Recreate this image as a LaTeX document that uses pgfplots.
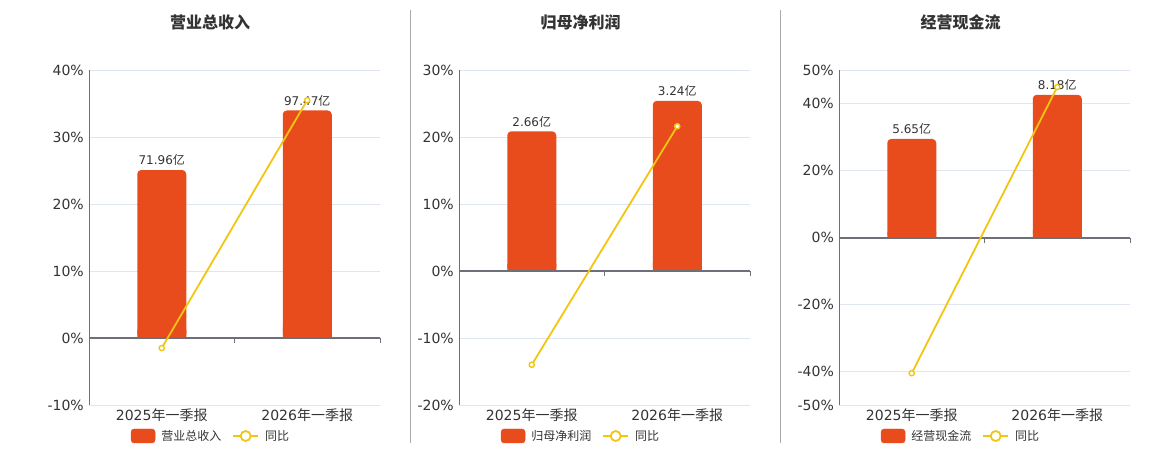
\documentclass[border=0pt]{standalone}
\usepackage{fontspec}
\setmainfont{DejaVu Sans}
\newfontfamily\cjk{Noto Sans CJK SC}
\usepackage{pgfplots}
\pgfplotsset{compat=1.18}
\definecolor{barc}{HTML}{E84C1D}
\definecolor{linec}{HTML}{F2C511}
\definecolor{textc}{HTML}{333333}
\definecolor{axisc}{HTML}{6E7079}
\definecolor{gridc}{HTML}{E0E6F1}
\definecolor{sepc}{HTML}{AAAAAA}
\pgfplotsset{
  base/.style={scale only axis, width=291pt, height=335pt, xmin=-0.5, xmax=1.5, anchor=south west},
  bg/.style={base,
    axis lines=left, axis line style={-, draw=axisc, line width=0.8pt},
    x axis line style={draw=none},
    xtick={0,1}, xticklabels={{2025{\cjk 年一季报}},{2026{\cjk 年一季报}}},
    xtick style={draw=none}, ytick style={draw=none}, major tick length=0pt,
    ymajorgrids, grid style={gridc, line width=0.8pt},
    tick label style={font=\fontsize{14}{16}\selectfont, text=textc},
    yticklabel style={inner xsep=5pt},
    yticklabel={\pgfmathprintnumber{\tick}\%},
    /pgf/number format/assume math mode=true},
  bars/.style={base, hide axis, ybar, bar width=49pt, clip=false,
    point meta=explicit symbolic,
    nodes near coords={\pgfplotspointmeta{\cjk 亿}},
    every node near coord/.append style={font=\fontsize{12}{14}\selectfont, text=textc, inner sep=1pt, yshift=3pt}},
  barsflat/.style={base, hide axis, ybar, bar width=49pt, clip=false},
  fg/.style={base, axis x line=middle, axis y line=none, clip=false,
    axis line style={-},
    every inner x axis line/.append style={-, draw=axisc, line width=2pt},
    x axis line style={-, draw=axisc, line width=2pt},
    xtick={0.5,1.5}, xticklabels={}, ytick=\empty,
    xtick style={draw=axisc, line width=0.8pt}, tick align=outside, major tick length=5pt,
    legend columns=2,
    legend style={at={(0.4158,-0.0925)}, anchor=center, draw=none, fill=none,
      font=\fontsize{12}{14}\selectfont, text=textc,
      nodes={inner sep=0pt},
      /tikz/every odd column/.append style={column sep=6pt},
      /tikz/every even column/.append style={column sep=11pt}}},
  barlegend/.style={legend image code/.code={\fill[barc, rounded corners=3pt] (0pt,-7pt) rectangle (24pt,7pt);}},
  linelegend/.style={legend image code/.code={\draw[linec, line width=1.8pt] (0pt,0pt) -- (25pt,0pt);
      \draw[linec, line width=1.8pt, fill=white] (12.5pt,0pt) circle (5pt);}},
  yoy/.style={linec, line width=1.8pt, mark=*, mark size=2.6pt, mark options={fill=white, draw=linec, line width=1.4pt}}
}
\begin{document}
\begin{tikzpicture}
\path (0pt,0pt) rectangle (1160pt,450pt);
% separators
\draw[sepc, line width=0.8pt] (410.5pt,440pt) -- (410.5pt,7pt);
\draw[sepc, line width=0.8pt] (780.5pt,440pt) -- (780.5pt,7pt);
% titles
\node[font=\fontsize{16}{18}\selectfont\cjk\bfseries, text=textc] at (210pt,428pt) {营业总收入};
\node[font=\fontsize{16}{18}\selectfont\cjk\bfseries, text=textc] at (580.5pt,428pt) {归母净利润};
\node[font=\fontsize{16}{18}\selectfont\cjk\bfseries, text=textc] at (960.5pt,428pt) {经营现金流};

% ---------- Panel 1 ----------
\pgfplotstableread{
x v p
0 71.96 -1.5
1 97.47 35.5
}\tA
\begin{axis}[bg, at={(89pt,45pt)}, ymin=-10, ymax=40, ytick={-10,0,10,20,30,40}]
\end{axis}
\begin{axis}[bars, at={(89pt,45pt)}, ymin=-28.7, ymax=114.8]
\addplot[fill=barc, draw=none, rounded corners=4pt] table[x=x, y=v, meta=v] {\tA};
\end{axis}
\begin{axis}[barsflat, at={(89pt,45pt)}, ymin=-574, ymax=2296]
\addplot[fill=barc, draw=none] table[x=x, y=v] {\tA};
\end{axis}
\begin{axis}[fg, at={(89pt,45pt)}, ymin=-10, ymax=40]
\addlegendimage{barlegend}
\addlegendentry{\cjk 营业总收入}
\addplot[yoy, linelegend] table[x=x, y=p] {\tA};
\addlegendentry{\cjk 同比}
\end{axis}

% ---------- Panel 2 ----------
\pgfplotstableread{
x v p
0 2.66 -14.0
1 3.24 21.6
}\tB
\begin{axis}[bg, at={(459pt,45pt)}, ymin=-20, ymax=30, ytick={-20,-10,0,10,20,30}]
\end{axis}
\begin{axis}[bars, at={(459pt,45pt)}, ymin=-2.552, ymax=3.828]
\addplot[fill=barc, draw=none, rounded corners=4pt] table[x=x, y=v, meta=v] {\tB};
\end{axis}
\begin{axis}[barsflat, at={(459pt,45pt)}, ymin=-51.04, ymax=76.56]
\addplot[fill=barc, draw=none] table[x=x, y=v] {\tB};
\end{axis}
\begin{axis}[fg, at={(459pt,45pt)}, ymin=-20, ymax=30]
\addlegendimage{barlegend}
\addlegendentry{\cjk 归母净利润}
\addplot[yoy, linelegend] table[x=x, y=p] {\tB};
\addlegendentry{\cjk 同比}
\end{axis}

% ---------- Panel 3 ----------
\pgfplotstableread{
x v p
0 5.65 -40.5
1 8.18 44.9
}\tC
\begin{axis}[bg, at={(839pt,45pt)}, ymin=-50, ymax=50, ytick={-50,-40,-20,0,20,40,50}]
\end{axis}
\begin{axis}[bars, at={(839pt,45pt)}, ymin=-9.6, ymax=9.6]
\addplot[fill=barc, draw=none, rounded corners=4pt] table[x=x, y=v, meta=v] {\tC};
\end{axis}
\begin{axis}[barsflat, at={(839pt,45pt)}, ymin=-192, ymax=192]
\addplot[fill=barc, draw=none] table[x=x, y=v] {\tC};
\end{axis}
\begin{axis}[fg, at={(839pt,45pt)}, ymin=-50, ymax=50]
\addlegendimage{barlegend}
\addlegendentry{\cjk 经营现金流}
\addplot[yoy, linelegend] table[x=x, y=p] {\tC};
\addlegendentry{\cjk 同比}
\end{axis}
\end{tikzpicture}
\end{document}
